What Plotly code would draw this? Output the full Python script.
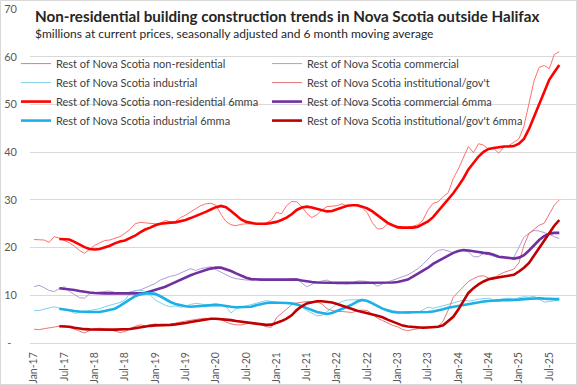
import pandas as pd
import plotly.graph_objects as go

# ---- data ----
months = list(pd.date_range("2017-01-01", periods=105, freq="MS").strftime("%b-%y"))

tick_labels = ["Jan-17", "Jul-17", "Jan-18", "Jul-18", "Jan-19", "Jul-19", "Jan-20", "Jul-20",
               "Jan-21", "Jul-21", "Jan-22", "Jul-22", "Jan-23", "Jul-23", "Jan-24", "Jul-24",
               "Jan-25", "Jul-25"]

nonres_raw = [21.7, 21.7, 21.6, 21.1, 22.3, 22.0, 21.5, 21.0, 20.3, 19.4,
              18.8, 19.6, 20.5, 21.0, 21.5, 21.6, 22.0, 22.3, 23.0, 23.8,
              25.0, 25.3, 25.2, 25.1, 25.0, 25.1, 25.7, 25.4, 25.5, 26.3,
              26.8, 27.5, 28.2, 28.8, 29.2, 29.3, 28.9, 27.0, 25.5, 24.8,
              24.6, 24.9, 25.0, 25.0, 25.1, 25.0, 25.2, 25.8, 27.4, 27.1,
              28.8, 29.7, 29.6, 28.6, 27.2, 26.3, 26.9, 27.9, 28.6, 28.7,
              28.8, 29.2, 28.7, 28.9, 28.8, 28.3, 27.3, 25.2, 23.9, 24.0,
              25.0, 24.6, 24.0, 24.0, 24.2, 24.5, 24.8, 25.8, 27.9, 29.3,
              29.6, 30.7, 31.5, 34.5, 36.5, 39.0, 41.2, 39.9, 41.8, 41.5,
              40.6, 40.8, 39.8, 41.1, 41.4, 42.1, 42.8, 45.5, 50.2, 55.0,
              57.8, 58.2, 57.5, 60.5, 61.1]

commercial_raw = [11.8, 12.1, 11.6, 11.0, 10.8, 11.4, 11.8, 10.8, 10.2, 9.5,
                  9.4, 10.3, 10.6, 10.7, 10.8, 10.9, 10.6, 10.5, 10.4, 10.7,
                  11.0, 11.1, 11.6, 12.1, 12.5, 13.2, 13.6, 14.0, 14.2, 14.7,
                  15.2, 15.6, 15.2, 15.6, 15.8, 16.0, 15.4, 14.9, 14.4, 13.8,
                  13.5, 13.3, 13.2, 13.2, 13.3, 13.2, 13.2, 13.3, 13.3, 13.3,
                  13.3, 13.5, 13.5, 12.6, 11.8, 12.3, 12.8, 13.0, 13.2, 12.7,
                  12.4, 12.5, 12.4, 12.6, 13.0, 13.0, 12.9, 12.5, 11.9, 12.4,
                  12.8, 13.1, 13.5, 13.9, 14.3, 14.9, 15.6, 16.5, 17.5, 18.7,
                  19.4, 19.6, 19.3, 18.9, 19.2, 19.4, 19.1, 18.1, 18.1, 18.8,
                  18.5, 18.2, 17.9, 17.8, 17.8, 18.0, 20.0, 22.2, 23.0, 23.6,
                  23.5, 23.2, 22.8, 22.3, 21.9]

industrial_raw = [6.8, 6.8, 7.1, 7.4, 7.6, 7.3, 7.0, 6.8, 6.2, 6.4,
                  6.7, 6.9, 7.0, 7.2, 7.6, 7.9, 8.2, 8.5, 9.0, 10.5,
                  10.9, 11.1, 10.8, 10.1, 9.0, 8.4, 7.9, 7.6, 7.8, 7.5,
                  7.7, 8.1, 8.3, 8.2, 8.0, 8.1, 8.2, 8.0, 7.6, 6.3,
                  7.2, 7.5, 7.8, 8.0, 8.4, 8.6, 8.9, 8.7, 8.5, 8.3,
                  8.5, 8.5, 8.2, 7.6, 6.8, 6.2, 5.7, 5.8, 6.7, 7.4,
                  8.2, 8.7, 9.0, 9.0, 9.1, 9.2, 8.9, 8.3, 7.6, 7.3,
                  7.0, 6.8, 6.6, 6.3, 6.2, 6.4, 6.4, 6.9, 7.5, 7.3,
                  7.5, 7.8, 8.1, 8.4, 8.6, 9.0, 8.8, 8.9, 9.2, 9.3,
                  9.4, 9.0, 9.1, 9.3, 9.4, 9.1, 9.5, 9.7, 9.6, 9.8,
                  9.2, 8.6, 8.7, 8.9, 9.0]

institutional_raw = [2.9, 2.8, 3.0, 3.2, 3.4, 3.6, 3.7, 3.3, 2.9, 2.4,
                     2.1, 2.6, 3.0, 3.1, 3.0, 2.8, 2.5, 2.2, 2.4, 3.0,
                     3.5, 3.8, 3.6, 3.8, 4.0, 3.8, 3.7, 3.9, 4.2, 4.4,
                     4.6, 4.8, 5.0, 5.1, 5.2, 4.9, 5.0, 4.9, 4.4, 4.0,
                     3.8, 3.8, 4.0, 4.2, 4.0, 3.8, 3.4, 3.3, 5.3, 6.2,
                     7.2, 8.0, 8.4, 8.6, 8.7, 8.7, 8.6, 8.2, 7.2, 6.8,
                     6.6, 6.6, 6.5, 6.4, 6.8, 6.9, 6.8, 6.0, 5.2, 4.7,
                     4.2, 3.7, 3.4, 2.8, 2.6, 2.8, 3.0, 3.4, 3.5, 3.4,
                     3.4, 4.6, 6.9, 9.6, 10.7, 11.8, 12.9, 13.5, 14.0, 14.1,
                     13.6, 13.3, 14.3, 14.8, 15.2, 15.5, 16.8, 20.5, 23.0, 23.8,
                     24.7, 25.1, 27.0, 28.9, 30.0]

nonres_6mma = [None, None, None, None, None, 21.8, 21.8, 21.7, 21.2, 20.6,
               20.1, 19.7, 19.6, 19.7, 20.0, 20.4, 20.9, 21.3, 21.5, 22.0,
               22.5, 23.2, 23.8, 24.2, 24.7, 25.0, 25.2, 25.25, 25.3, 25.5,
               25.8, 26.2, 26.6, 27.0, 27.5, 28.0, 28.5, 28.75, 28.5, 27.7,
               26.8, 25.9, 25.4, 25.2, 25.0, 25.0, 25.0, 25.2, 25.4, 25.8,
               26.3, 27.0, 27.9, 28.4, 28.6, 28.4, 28.1, 27.9, 27.6, 27.7,
               28.1, 28.5, 28.8, 28.9, 28.9, 28.6, 28.2, 27.6, 26.8, 26.0,
               25.2, 24.7, 24.3, 24.2, 24.2, 24.2, 24.4, 24.9, 25.5, 26.4,
               27.6, 28.8, 30.2, 31.4, 32.9, 34.5, 36.4, 37.8, 39.1, 40.1,
               40.7, 40.9, 41.1, 41.2, 41.2, 41.3, 41.8, 42.8, 44.9, 47.5,
               50.3, 52.9, 55.2, 56.8, 58.3]

commercial_6mma = [None, None, None, None, None, 11.5, 11.4, 11.3, 11.1, 10.9,
                   10.7, 10.6, 10.5, 10.4, 10.4, 10.4, 10.4, 10.4, 10.3, 10.3,
                   10.3, 10.4, 10.5, 10.8, 11.1, 11.5, 11.8, 12.3, 12.8, 13.3,
                   13.8, 14.2, 14.6, 15.0, 15.3, 15.6, 15.8, 15.8, 15.5, 15.1,
                   14.6, 14.1, 13.7, 13.4, 13.3, 13.3, 13.3, 13.3, 13.3, 13.3,
                   13.3, 13.3, 13.3, 13.1, 12.9, 12.8, 12.7, 12.65, 12.65, 12.6,
                   12.6, 12.6, 12.6, 12.6, 12.7, 12.7, 12.7, 12.7, 12.6, 12.6,
                   12.6, 12.7, 12.8, 13.0, 13.3, 13.9, 14.5, 15.1, 15.8, 16.6,
                   17.2, 17.8, 18.4, 18.9, 19.3, 19.5, 19.4, 19.3, 19.1, 18.9,
                   18.8, 18.5, 18.1, 18.0, 17.9, 17.7, 17.9, 18.4, 19.4, 20.6,
                   21.6, 22.4, 22.9, 23.1, 23.1]

industrial_6mma = [None, None, None, None, None, 7.2, 7.0, 6.8, 6.7, 6.6,
                   6.5, 6.5, 6.5, 6.5, 6.7, 6.9, 7.2, 7.8, 8.5, 9.2,
                   9.8, 10.2, 10.4, 10.4, 10.3, 9.8, 9.2, 8.6, 8.2, 7.9,
                   7.7, 7.6, 7.7, 7.8, 7.9, 8.0, 8.0, 7.9, 7.7, 7.6,
                   7.5, 7.5, 7.5, 7.6, 7.9, 8.2, 8.4, 8.5, 8.5, 8.5,
                   8.4, 8.3, 8.1, 7.7, 7.3, 6.9, 6.5, 6.3, 6.1, 6.3,
                   6.7, 7.1, 7.6, 8.1, 8.7, 9.0, 8.8, 8.3, 7.7, 7.2,
                   6.8, 6.5, 6.4, 6.4, 6.4, 6.4, 6.4, 6.4, 6.5, 6.6,
                   6.8, 7.1, 7.4, 7.6, 7.7, 7.9, 8.1, 8.3, 8.5, 8.7,
                   8.8, 8.9, 8.9, 9.0, 9.0, 9.0, 9.1, 9.2, 9.3, 9.4,
                   9.4, 9.3, 9.2, 9.2, 9.2]

institutional_6mma = [None, None, None, None, None, 3.5, 3.5, 3.4, 3.2, 3.0,
                      2.9, 2.85, 2.8, 2.8, 2.8, 2.8, 2.8, 2.8, 2.8, 2.95,
                      3.1, 3.3, 3.5, 3.6, 3.7, 3.7, 3.7, 3.8, 3.9, 4.0,
                      4.2, 4.4, 4.6, 4.8, 4.95, 5.1, 5.1, 5.05, 4.95, 4.8,
                      4.6, 4.45, 4.3, 4.1, 3.95, 3.85, 3.8, 3.85, 4.2, 4.6,
                      5.1, 5.8, 6.9, 7.7, 8.3, 8.6, 8.75, 8.75, 8.7, 8.5,
                      8.2, 7.8, 7.4, 7.0, 6.75, 6.5, 6.3, 6.0, 5.7, 5.4,
                      4.9, 4.5, 4.0, 3.65, 3.45, 3.35, 3.3, 3.2, 3.25, 3.3,
                      3.4, 3.7, 4.5, 5.5, 7.0, 8.9, 10.5, 11.5, 12.3, 12.9,
                      13.35, 13.6, 13.75, 13.9, 14.1, 14.3, 15.0, 15.8, 16.8, 18.3,
                      20.0, 21.3, 23.0, 24.6, 25.8]

y_tickvals = [0, 10, 20, 30, 40, 50, 60, 70]
y_ticktext = ["-\u00a0\u00a0", "10", "20", "30", "40", "50", "60", "70"]

# (name, values, colour, width, legend column)
series = [
    ("Rest of Nova Scotia non-residential", nonres_raw, "#FF7070", 1, "legend"),
    ("Rest of Nova Scotia commercial", commercial_raw, "#B49AD6", 1, "legend2"),
    ("Rest of Nova Scotia industrial", industrial_raw, "#7FD0EE", 1, "legend"),
    ("Rest of Nova Scotia institutional/gov't", institutional_raw, "#E87878", 1, "legend2"),
    ("Rest of Nova Scotia non-residential 6mma", nonres_6mma, "#FF0000", 2.6, "legend"),
    ("Rest of Nova Scotia commercial 6mma", commercial_6mma, "#7030A0", 2.6, "legend2"),
    ("Rest of Nova Scotia industrial 6mma", industrial_6mma, "#1CB0E6", 2.6, "legend"),
    ("Rest of Nova Scotia institutional/gov't 6mma", institutional_6mma, "#C00000", 2.6, "legend2"),
]

FONT = "Lato, 'Liberation Sans', Arial, sans-serif"

fig = go.Figure()
for name, vals, color, w, lg in series:
    fig.add_trace(go.Scatter(x=months, y=vals, name=name, mode="lines", legend=lg,
                             line=dict(color=color, width=w), connectgaps=False))

legend_common = dict(orientation="v", xanchor="left", y=0.880, yanchor="top",
                     bgcolor="rgba(0,0,0,0)", font=dict(size=11, color="#404040"),
                     tracegroupgap=0, itemwidth=30, traceorder="normal")

fig.update_layout(
    width=577, height=385,
    margin=dict(l=30, r=0, t=9, b=42, autoexpand=False),
    paper_bgcolor="white", plot_bgcolor="white",
    font=dict(family=FONT, size=11, color="#595959"),
    showlegend=True,
    legend=dict(x=-0.0256, **legend_common),
    legend2=dict(x=0.4333, **legend_common),
    xaxis=dict(type="category", range=[-0.8, 107.5], categoryorder="array", categoryarray=months,
               tickmode="array", tickvals=tick_labels, ticktext=tick_labels,
               tickangle=-90, tickfont=dict(size=10.5, color="#595959"),
               showgrid=False, showline=True, linecolor="#D9D9D9", linewidth=1,
               ticks="", ticklabelstandoff=4, zeroline=False, automargin=False),
    yaxis=dict(range=[0, 70.05], tickmode="array", tickvals=y_tickvals, ticktext=y_ticktext,
               showgrid=True, gridcolor="#D9D9D9", gridwidth=1,
               zeroline=False, showline=False, ticks="", automargin=False,
               ticklabelstandoff=12, tickfont=dict(size=11, color="#595959")),
    annotations=[
        dict(text="<b>Non-residential building construction trends in Nova Scotia outside Halifax</b>",
             xref="paper", yref="paper", x=0.0055, y=0.979, xanchor="left", yanchor="middle",
             showarrow=False, font=dict(size=15.2, color="#262626", family=FONT)),
        dict(text="$millions at current prices, seasonally adjusted and 6 month moving average",
             xref="paper", yref="paper", x=0.0055, y=0.928, xanchor="left", yanchor="middle",
             showarrow=False, font=dict(size=12, color="#262626", family=FONT)),
    ],
    shapes=[dict(type="rect", xref="paper", yref="paper",
                 x0=-29.5 / 547, x1=546.5 / 547, y0=-41.5 / 334, y1=342.5 / 334,
                 line=dict(color="#D9D9D9", width=1), fillcolor="rgba(0,0,0,0)", layer="below")],
)

fig.write_html("out.html", config={"displayModeBar": False},
               post_script="document.body.style.margin='0px';document.body.style.padding='0px';")
